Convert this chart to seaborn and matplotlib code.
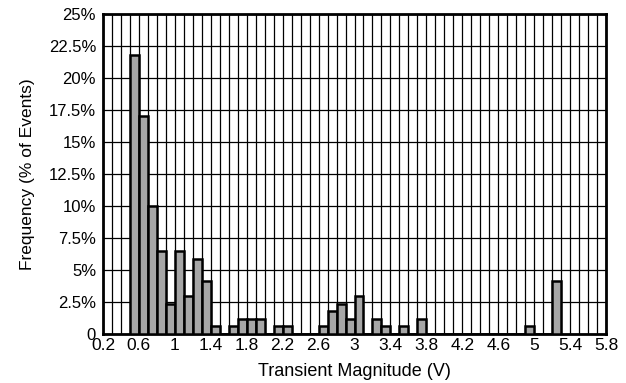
import numpy as np
import pandas as pd
import matplotlib
matplotlib.use("Agg")
import matplotlib.pyplot as plt
import seaborn as sns
from matplotlib.ticker import MultipleLocator, FuncFormatter

# Bin start (V) and frequency (% of events), bin width 0.1 V
bin_start = [0.5, 0.6, 0.7, 0.8, 0.9, 1.0, 1.1, 1.2, 1.3, 1.4, 1.6, 1.7, 1.8, 1.9,
             2.1, 2.2, 2.6, 2.7, 2.8, 2.9, 3.0, 3.2, 3.3, 3.5, 3.7, 4.9, 5.2]
freq_pct = [21.76, 17.06, 10.0, 6.47, 2.35, 6.47, 2.94, 5.88, 4.12, 0.59, 0.59, 1.18, 1.18, 1.18,
            0.59, 0.59, 0.59, 1.76, 2.35, 1.18, 2.94, 1.18, 0.59, 0.59, 1.18, 0.59, 4.12]
x_ticks = [0.2, 0.6, 1.0, 1.4, 1.8, 2.2, 2.6, 3.0, 3.4, 3.8, 4.2, 4.6, 5.0, 5.4, 5.8]
y_ticks = [0, 2.5, 5, 7.5, 10, 12.5, 15, 17.5, 20, 22.5, 25]

df = pd.DataFrame({"center": np.array(bin_start) + 0.05, "pct": freq_pct})

sns.set_theme(style="white")
plt.rcParams["font.family"] = ["Liberation Sans", "DejaVu Sans"]

fig = plt.figure(figsize=(6.26, 3.83), dpi=100)
ax = fig.add_axes([103/626, 1 - 334/383, 503/626, 320/383])

sns.histplot(data=df, x="center", weights="pct", binwidth=0.1, binrange=(0.5, 5.3),
             color="#a6a6a6", alpha=1.0, edgecolor="black", linewidth=1.8, ax=ax, zorder=3)

ax.set_xlim(0.2, 5.8)
ax.set_ylim(0, 25)
ax.set_xticks(x_ticks)
ax.xaxis.set_minor_locator(MultipleLocator(0.1))
ax.set_yticks(y_ticks)

def xfmt(v, pos):
    s = f"{v:.1f}"
    return s[:-2] if s.endswith(".0") else s

def yfmt(v, pos):
    if v == 0:
        return "0"
    return f"{v:g}%"

ax.xaxis.set_major_formatter(FuncFormatter(xfmt))
ax.yaxis.set_major_formatter(FuncFormatter(yfmt))

ax.grid(True, which="both", axis="x", color="black", linewidth=0.9, zorder=0)
ax.grid(True, which="major", axis="y", color="black", linewidth=0.9, zorder=0)
ax.set_axisbelow(True)

for s in ax.spines.values():
    s.set_color("black")
    s.set_linewidth(2)
    s.set_visible(True)

ax.tick_params(axis="both", which="both", length=0, colors="black")
ax.tick_params(axis="x", labelsize=12.5, pad=3)
ax.tick_params(axis="y", labelsize=12, pad=5)
ax.set_xlabel("Transient Magnitude (V)", fontsize=13, color="black")
ax.set_ylabel("Frequency (% of Events)", fontsize=12.5, color="black")
ax.xaxis.label.set_va("center")
ax.yaxis.label.set_va("center")
ax.xaxis.set_label_coords(0.5, (334 - 371) / 320)
ax.yaxis.set_label_coords((28 - 103) / 503, 0.5)

fig.savefig("out.png", dpi=100)
